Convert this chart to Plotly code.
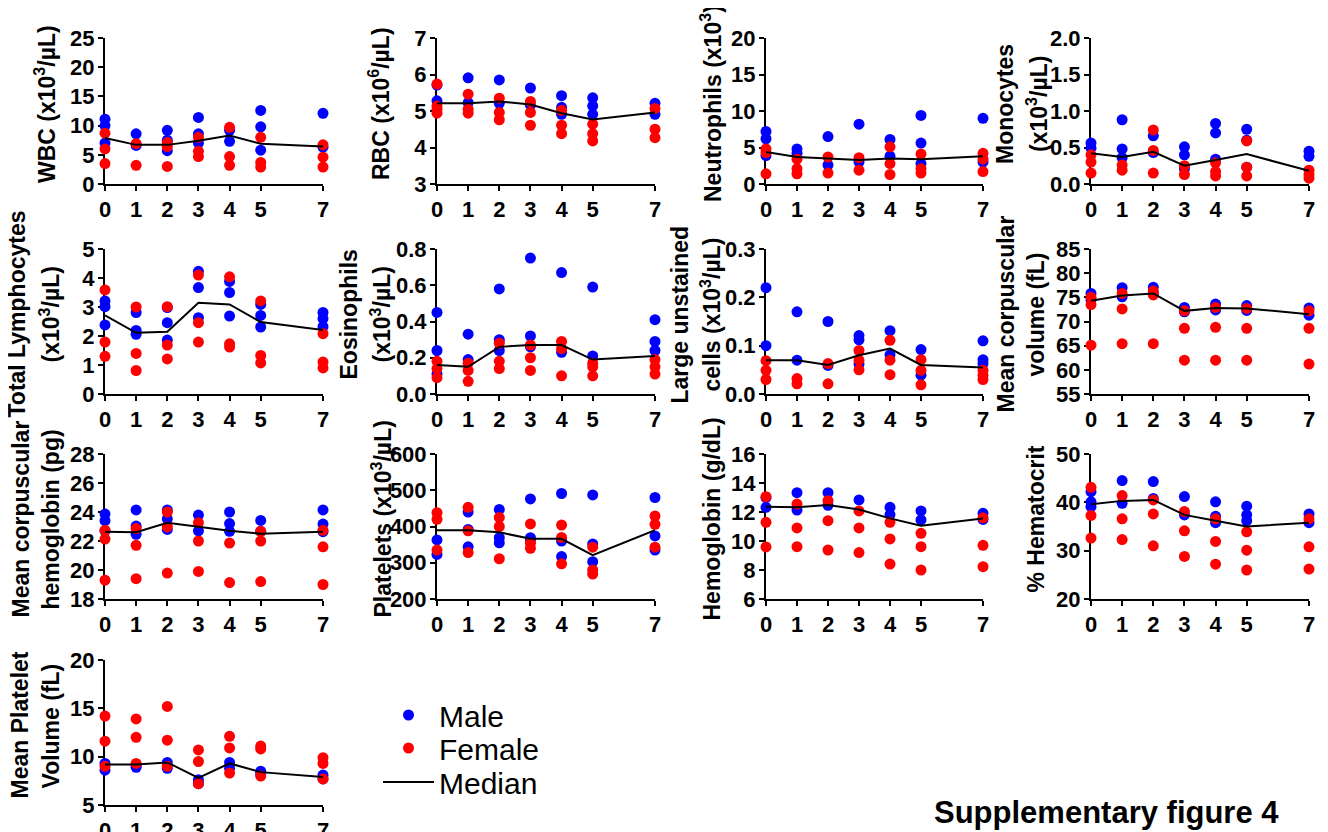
import plotly.graph_objects as go

days = [0, 1, 2, 3, 4, 5, 7]
day_labels = ["0", "1", "2", "3", "4", "5", "7"]

wbc_male = [[11.1, 10.0, 7.0], [8.6, 6.6], [9.2, 7.5, 5.7], [11.4, 8.6, 7.0], [9.2, 7.3], [12.6, 9.8, 5.8], [12.1, 6.3]]
wbc_female = [[8.7, 6.0, 3.5], [6.9, 3.2], [7.1, 6.4, 3.0], [8.0, 5.6, 4.7], [9.7, 4.7, 3.2], [8.0, 3.7, 2.9], [6.7, 4.6, 2.9]]
wbc_median = [7.9, 6.7, 6.7, 7.4, 8.3, 6.9, 6.4]

rbc_male = [[5.71, 5.28], [5.91, 5.23], [5.85, 5.21], [5.63, 5.16], [5.42, 5.10, 4.91], [5.36, 5.14, 4.91], [5.21, 4.91]]
rbc_female = [[5.74, 5.14, 5.05, 4.94], [5.46, 5.05, 4.94], [5.35, 4.96, 4.76], [5.26, 4.96, 4.61], [5.02, 4.61, 4.38], [4.64, 4.38, 4.18], [5.07, 4.50, 4.27]]
rbc_median = [5.21, 5.21, 5.26, 5.18, 4.94, 4.77, 4.96]

neu_male = [[7.2, 6.2, 3.9], [4.8, 4.2], [6.5, 2.6], [8.2, 3.0], [6.1, 3.8], [9.4, 5.6, 2.8], [9.0, 3.0]]
neu_female = [[4.8, 4.3, 1.4], [3.4, 2.1, 1.4], [3.7, 1.5], [3.6, 1.9], [5.1, 2.8, 1.3], [4.1, 2.1, 1.5], [4.2, 3.4, 1.7]]
neu_median = [4.4, 3.7, 3.5, 3.3, 3.5, 3.4, 3.8]

mono_male = [[0.56, 0.49], [0.88, 0.48, 0.36], [0.66, 0.43], [0.51, 0.40, 0.21], [0.83, 0.70, 0.34], [0.75, 0.60, 0.23], [0.45, 0.38]]
mono_female = [[0.40, 0.30, 0.15], [0.26, 0.19], [0.74, 0.46, 0.15], [0.25, 0.13], [0.29, 0.17, 0.11], [0.59, 0.23, 0.11], [0.19, 0.13, 0.08]]
mono_median = [0.42, 0.37, 0.44, 0.25, 0.33, 0.41, 0.18]

lym_male = [[3.21, 3.01, 2.38], [2.81, 2.19, 2.06], [2.98, 2.46, 1.86], [4.23, 3.67, 2.63], [3.88, 3.50, 2.69], [3.09, 2.71, 2.31], [2.81, 2.60, 2.32]]
lym_female = [[3.59, 1.79, 1.30], [3.00, 1.40, 0.81], [3.01, 1.69, 1.21], [4.10, 2.46, 1.79], [4.04, 1.73, 1.62], [3.21, 1.33, 1.07], [2.08, 1.10, 0.90]]
lym_median = [2.71, 2.11, 2.15, 3.15, 3.09, 2.48, 2.21]

eos_male = [[0.45, 0.24, 0.11], [0.33, 0.19], [0.58, 0.30, 0.24], [0.75, 0.32, 0.26], [0.67, 0.23], [0.59, 0.21], [0.41, 0.29, 0.24]]
eos_female = [[0.18, 0.14, 0.09], [0.17, 0.13, 0.07], [0.28, 0.18, 0.14], [0.27, 0.20, 0.13], [0.29, 0.25, 0.10], [0.17, 0.15, 0.10], [0.19, 0.15, 0.11]]
eos_median = [0.16, 0.15, 0.26, 0.27, 0.27, 0.19, 0.21]

luc_male = [[0.22, 0.10], [0.17, 0.07], [0.15, 0.059], [0.121, 0.112, 0.062], [0.131, 0.081], [0.092, 0.039], [0.11, 0.071, 0.063]]
luc_female = [[0.069, 0.049, 0.03], [0.032, 0.021], [0.063, 0.021], [0.09, 0.07, 0.05], [0.111, 0.07, 0.04], [0.071, 0.049, 0.019], [0.049, 0.039, 0.03]]
luc_median = [0.07, 0.07, 0.06, 0.08, 0.094, 0.06, 0.055]

mcv_male = [[75.8, 74.5], [77.0, 75.1], [77.1, 75.9], [72.9, 72.0], [73.6, 72.4], [73.3, 72.3], [72.8, 71.3]]
mcv_female = [[75.0, 73.5, 65.1], [75.8, 72.6, 65.4], [76.3, 75.5, 65.4], [72.2, 68.6, 62.0], [72.9, 68.8, 62.0], [72.7, 68.6, 62.0], [72.2, 68.6, 61.2]]
mcv_median = [74.3, 75.4, 75.8, 72.2, 72.8, 72.7, 71.5]

mch_male = [[23.86, 23.4, 22.7], [24.14, 23.03, 22.46], [24.14, 23.52, 22.8], [23.79, 22.7], [24.0, 23.2, 22.67], [23.42, 22.67], [24.14, 23.17, 22.64]]
mch_female = [[22.74, 22.13, 19.3], [22.86, 21.7, 19.4], [24.0, 22.97, 19.79], [23.26, 22.0, 19.9], [21.86, 19.13], [22.67, 22.0, 19.2], [22.74, 21.6, 19.0]]
mch_median = [22.64, 22.6, 23.26, 22.99, 22.7, 22.5, 22.64]

plt_male = [[363, 323], [440, 392, 344], [447, 369, 355], [476, 369, 363], [491, 360, 317], [487, 352, 303], [480, 374, 335]]
plt_female = [[438, 420, 335], [453, 388, 328], [425, 400, 311], [407, 354, 340], [404, 370, 297], [343, 280, 269], [429, 406, 343]]
plt_median = [390, 390, 384, 366, 366, 321, 390]

hb_male = [[12.99, 12.32], [13.33, 12.13], [13.33, 12.46], [12.83], [12.32, 11.82], [12.07, 11.45], [11.91, 11.49]]
hb_female = [[13.06, 11.29, 9.59], [12.55, 10.90, 9.61], [12.78, 11.40, 9.38], [12.07, 10.90, 9.2], [11.29, 10.14, 8.41], [10.53, 9.61, 8.0], [11.6, 9.7, 8.23]]
hb_median = [12.37, 12.32, 12.48, 12.17, 11.56, 11.06, 11.56]

hct_male = [[42.2, 40.1, 39.1], [44.5, 39.8], [44.3, 40.8], [41.2, 37.4], [40.1, 37.1, 35.8], [39.2, 37.4, 36.2], [37.6, 35.8]]
hct_female = [[43.1, 37.3, 32.6], [41.4, 36.6, 32.3], [40.5, 37.6, 31.0], [38.1, 34.1, 28.8], [36.6, 31.9, 27.2], [33.9, 30.1, 26.0], [36.6, 30.8, 26.2]]
hct_median = [39.6, 40.3, 40.5, 37.4, 36.2, 35.0, 35.8]

mpv_male = [[9.3, 8.6], [9.1, 8.9], [9.4, 8.8], [7.6, 7.2], [9.4, 8.8], [8.5, 8.2], [8.1, 7.7]]
mpv_female = [[14.2, 11.6, 9.0], [13.9, 12.0, 9.3], [15.2, 11.7, 9.0], [10.7, 9.5, 7.2], [12.1, 10.9, 8.3], [11.1, 10.8, 8.0], [9.9, 9.3, 7.7]]
mpv_median = [9.2, 9.2, 9.4, 7.8, 9.3, 8.4, 7.9]

# (title lines, male, female, median, y range, dtick, tickformat)
panels = [
    (["WBC (x10<sup>3</sup>/µL)"], wbc_male, wbc_female, wbc_median, [0, 25], 5, ""),
    (["RBC (x10<sup>6</sup>/µL)"], rbc_male, rbc_female, rbc_median, [3, 7], 1, ""),
    (["Neutrophils (x10<sup>3</sup>)"], neu_male, neu_female, neu_median, [0, 20], 5, ""),
    (["Monocytes", "(x10<sup>3</sup>/µL)"], mono_male, mono_female, mono_median, [0, 2], 0.5, ".1f"),
    (["Total Lymphocytes", "(x10<sup>3</sup>/µL)"], lym_male, lym_female, lym_median, [0, 5], 1, ""),
    (["Eosinophils", "(x10<sup>3</sup>/µL)"], eos_male, eos_female, eos_median, [0, 0.8], 0.2, ".1f"),
    (["Large unstained", "cells (x10<sup>3</sup>/µL)"], luc_male, luc_female, luc_median, [0, 0.3], 0.1, ".1f"),
    (["Mean corpuscular", "volume (fL)"], mcv_male, mcv_female, mcv_median, [55, 85], 5, ""),
    (["Mean corpuscular", "hemoglobin (pg)"], mch_male, mch_female, mch_median, [18, 28], 2, ""),
    (["Platelets (x10<sup>3</sup>/µL)"], plt_male, plt_female, plt_median, [200, 600], 100, ""),
    (["Hemoglobin (g/dL)"], hb_male, hb_female, hb_median, [6, 16], 2, ""),
    (["% Hematocrit"], hct_male, hct_female, hct_median, [20, 50], 10, ""),
    (["Mean Platelet", "Volume (fL)"], mpv_male, mpv_female, mpv_median, [5, 20], 5, ""),
]

# the page body has an 8px margin: lay out in screen pixels, shifted by OFF
OFF = 8
W, H = 1328 - OFF, 832 - OFF


def px(x):
    return (x - OFF) / W


def py(y):
    return 1 - (y - OFF) / H


col_px = [(105, 323), (437, 655), (766, 983), (1091, 1309)]
row_px = [(38, 184), (249, 394), (454, 599), (660, 805)]
title_x = [[45], [379], [711], [1005, 1037],
           [17, 50], [349, 381], [680, 711], [1006, 1036],
           [20, 50], [381], [711], [1035],
           [19, 50]]

FONT = "Liberation Sans, Arial, sans-serif"
BLUE = "#0000FF"
RED = "#FF0000"

fig = go.Figure()
leg_common = dict(x=px(378), xanchor="left", yanchor="middle",
                  font=dict(size=30, family=FONT, color="black"),
                  bgcolor="rgba(0,0,0,0)", itemwidth=51)
layout = dict(
    width=W, height=H, margin=dict(l=0, r=0, t=0, b=0, autoexpand=False),
    paper_bgcolor="white", plot_bgcolor="white",
    font=dict(family=FONT, color="black"),
    showlegend=True,
    legend=dict(y=py(715), **leg_common),
    legend2=dict(y=py(748), **leg_common),
    legend3=dict(y=py(782), **leg_common),
)
annotations = []

for i, (tlines, male, female, med, yr, dt, fmt) in enumerate(panels):
    r, c = divmod(i, 4)
    x0, x1 = col_px[c]
    y0, y1 = row_px[r]
    ax = "" if i == 0 else str(i + 1)
    xa, ya = "x" + ax, "y" + ax
    mx = [d for d, vals in zip(days, male) for _ in vals]
    my = [v for vals in male for v in vals]
    fx = [d for d, vals in zip(days, female) for _ in vals]
    fy = [v for vals in female for v in vals]
    fig.add_trace(go.Scatter(x=mx, y=my, mode="markers", name="Male", legend="legend",
                             marker=dict(color=BLUE, size=11, line=dict(width=0)),
                             cliponaxis=False, showlegend=(i == 0), xaxis=xa, yaxis=ya))
    fig.add_trace(go.Scatter(x=fx, y=fy, mode="markers", name="Female", legend="legend2",
                             marker=dict(color=RED, size=11, line=dict(width=0)),
                             cliponaxis=False, showlegend=(i == 0), xaxis=xa, yaxis=ya))
    fig.add_trace(go.Scatter(x=days, y=med, mode="lines", name="Median", legend="legend3",
                             line=dict(color="black", width=2),
                             cliponaxis=False, showlegend=(i == 0), xaxis=xa, yaxis=ya))
    axis_common = dict(showline=True, linecolor="black", linewidth=2, showgrid=False,
                       zeroline=False, ticks="outside", ticklen=5, tickwidth=2,
                       tickcolor="black", layer="below traces", automargin=False,
                       tickfont=dict(size=22, family=FONT, color="black", weight="bold"))
    layout["xaxis" + ax] = dict(domain=[px(x0), px(x1)], range=[0, 7], anchor=ya,
                                tickvals=days, ticktext=day_labels, **axis_common)
    layout["yaxis" + ax] = dict(domain=[py(y1), py(y0)], range=yr, anchor=xa,
                                dtick=dt, tick0=yr[0], tickformat=fmt,
                                ticklabelstandoff=-1, **axis_common)
    yc = (y0 + y1) / 2 - 7
    for tx, line in zip(title_x[i], tlines):
        annotations.append(dict(text="<b>" + line + "</b>", x=px(tx), y=py(yc),
                                xref="paper", yref="paper", xanchor="center", yanchor="middle",
                                textangle=-90, showarrow=False,
                                font=dict(size=23, family=FONT, color="black")))

annotations.append(dict(text="<b>Supplementary figure 4</b>", x=px(1281), y=py(812),
                        xref="paper", yref="paper", xanchor="right", yanchor="middle",
                        showarrow=False, font=dict(size=31, family=FONT, color="black")))
layout["annotations"] = annotations
fig.update_layout(**layout)
fig.write_html("out.html")
